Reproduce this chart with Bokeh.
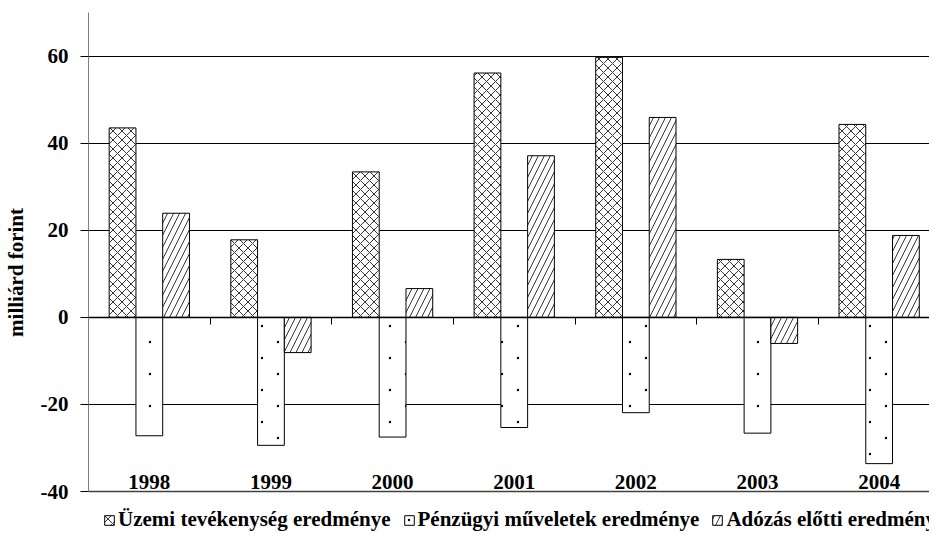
import numpy as np
from urllib.parse import quote
from bokeh.plotting import figure
from bokeh.models import (ColumnDataSource, Range1d, FixedTicker, LinearAxis,
                          Legend, LegendItem, Grid, ImageURLTexture)
from bokeh.core.properties import value
from bokeh.transform import dodge
from bokeh.embed import file_html
from bokeh.resources import INLINE

years = ["1998", "1999", "2000", "2001", "2002", "2003", "2004"]
uzemi = [43.5, 17.8, 33.4, 56.1, 59.7, 13.3, 44.3]
penzugyi = [-27.2, -29.4, -27.5, -25.3, -21.9, -26.6, -33.6]
adozas = [23.9, -8.1, 6.6, 37.1, 45.9, -6.0, 18.8]
series_labels = ["Üzemi tevékenység eredménye",
                 "Pénzügyi műveletek eredménye",
                 "Adózás előtti eredménye"]
y_ticks = [-40, -20, 0, 20, 40, 60]
y_min, y_max = -40, 70

FONT = "Liberation Serif"
xc = np.arange(len(years)) + 0.5

src = ColumnDataSource(dict(xc=xc, uzemi=uzemi, penzugyi=penzugyi, adozas=adozas))

H = 532
TOP = 12
PX_PER_UNIT = 479 / (y_max - y_min)
y_start = y_max - (H - TOP) / PX_PER_UNIT   # frame reaches down to hold the legend

p = figure(width=929, height=H, output_backend="svg", toolbar_location=None,
           x_range=Range1d(0, 6.914), y_range=Range1d(y_start, y_max),
           x_axis_location=None,
           min_border_left=80, min_border_right=0, min_border_top=TOP, min_border_bottom=0)
p.background_fill_color = "white"
p.border_fill_color = "white"
p.outline_line_color = None

# y axis
yax = p.yaxis[0]
yax.bounds = (y_min, y_max)
yax.ticker = FixedTicker(ticks=y_ticks)
yax.major_label_overrides = {t: str(t) for t in y_ticks}
yax.major_label_text_font = FONT
yax.major_label_text_font_style = "bold"
yax.major_label_text_font_size = "21px"
yax.major_label_text_color = "black"
yax.major_tick_out = 8
yax.major_tick_in = 0
yax.minor_tick_out = 0
yax.minor_tick_in = 0
yax.major_label_standoff = 12
yax.axis_line_color = "#808080"
yax.major_tick_line_color = "black"
yax.axis_label = "milliárd forint"
yax.axis_label_text_font = FONT
yax.axis_label_text_font_style = "bold"
yax.axis_label_text_font_size = "21px"
yax.axis_label_text_color = "black"
yax.axis_label_standoff = 10

p.ygrid.ticker = FixedTicker(ticks=y_ticks)
p.ygrid.grid_line_color = "black"
p.ygrid.grid_line_width = 1
p.xgrid.visible = False

# top border of the plot area
top_line = Grid(dimension=1, ticker=FixedTicker(ticks=[y_max]),
                grid_line_color="#808080", grid_line_width=1.5)
p.add_layout(top_line)

# zero axis with category boundary ticks
zero_ax = LinearAxis(fixed_location=0,
                     ticker=FixedTicker(ticks=list(range(1, len(years)))),
                     major_label_overrides={i: "" for i in range(1, len(years))},
                     major_label_text_font_size="0px",
                     major_tick_out=7, major_tick_in=0,
                     minor_tick_out=0, minor_tick_in=0,
                     axis_line_color="black", axis_line_width=1.5,
                     major_tick_line_color="black")
p.add_layout(zero_ax, "below")

# category labels sitting on the bottom line
lab_ax = LinearAxis(fixed_location=y_min,
                    ticker=FixedTicker(ticks=list(xc)),
                    major_label_overrides={float(v): y for v, y in zip(xc, years)},
                    major_tick_out=0, major_tick_in=0,
                    minor_tick_out=0, minor_tick_in=0,
                    axis_line_color="#404040", axis_line_width=1.5,
                    major_label_standoff=3,
                    major_label_text_font=FONT,
                    major_label_text_font_style="bold",
                    major_label_text_font_size="21px",
                    major_label_text_color="black")
p.add_layout(lab_ax, "above")

# sparse staggered dot texture
dot_svg = ('<svg xmlns="http://www.w3.org/2000/svg" width="32" height="32">'
           '<circle cx="6" cy="6" r="1.2" fill="black"/>'
           '<circle cx="22" cy="22" r="1.2" fill="black"/></svg>')
dots = ImageURLTexture(url="data:image/svg+xml;utf8," + quote(dot_svg))

bw = 0.22
r1 = p.vbar(x=dodge("xc", -bw), top="uzemi", bottom=0, width=bw, source=src,
            fill_color="white", line_color="black", line_width=1,
            hatch_pattern=value("x"), hatch_scale=9, hatch_color="black", hatch_weight=0.8)
r2 = p.vbar(x=dodge("xc", 0), top="penzugyi", bottom=0, width=bw, source=src,
            fill_color="white", line_color="black", line_width=1,
            hatch_pattern=value("dots"), hatch_extra={"dots": dots},
            hatch_color="black")
r3 = p.vbar(x=dodge("xc", bw), top="adozas", bottom=0, width=bw, source=src,
            fill_color="white", line_color="black", line_width=1,
            hatch_pattern=value("/"), hatch_scale=12, hatch_color="black", hatch_weight=0.8)

legend = Legend(items=[LegendItem(label=series_labels[0], renderers=[r1]),
                       LegendItem(label=series_labels[1], renderers=[r2]),
                       LegendItem(label=series_labels[2], renderers=[r3])],
                orientation="horizontal", location=(15, 0),
                glyph_width=12, glyph_height=12, label_standoff=3, spacing=12,
                padding=0, margin=0, border_line_color=None, background_fill_alpha=0,
                label_text_font=FONT, label_text_font_style="bold",
                label_text_font_size="21px", label_text_color="black")
p.add_layout(legend, "center")

open("out.html", "w").write(file_html(p, INLINE))
